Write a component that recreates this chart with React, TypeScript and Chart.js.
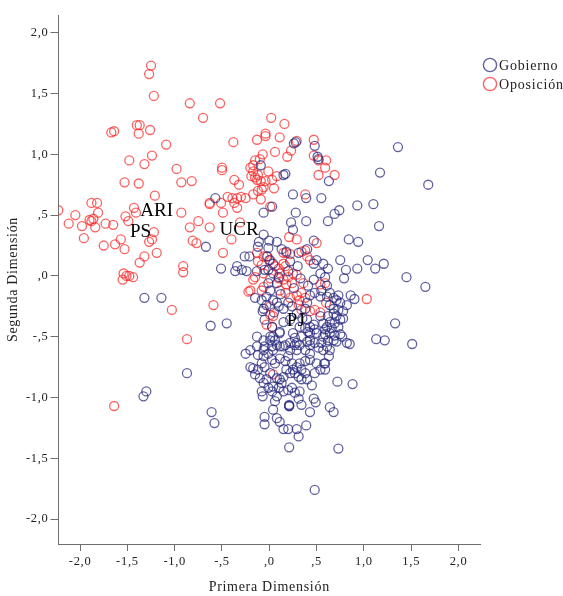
import { useEffect, useRef } from 'react';
import { Chart, registerables } from 'chart.js';

Chart.register(...registerables);

const xTicks = [-2, -1.5, -1, -0.5, 0, 0.5, 1, 1.5, 2];
const xTickLabels = ['-2,0', '-1,5', '-1,0', '-,5', ',0', ',5', '1,0', '1,5', '2,0'];
const yTicks = [-2, -1.5, -1, -0.5, 0, 0.5, 1, 1.5, 2];
const yTickLabels = ['-2,0', '-1,5', '-1,0', '-,5', ',0', ',5', '1,0', '1,5', '2,0'];

const seriesNames = ['Gobierno', 'Oposición'];

// [Primera Dimensión, Segunda Dimensión]
const gobierno: [number, number][] = [
  [-0.57, 0.64], [-0.67, 0.24], [-0.51, 0.06], [-1.32, -0.18], [-1.14, -0.18], [-0.62, -0.41], [-0.45, -0.39],
  [-0.25, -0.64], [-0.12, -0.65], [-0.87, -0.8], [-1.3, -0.95], [-1.33, -0.99], [-0.61, -1.12], [-0.58, -1.21],
  [-0.07, -0.29], [-0.05, -1.16], [-0.05, -1.22],
  [0.28, 1.1], [0.26, 1.09], [0.48, 1.07], [0.51, 0.98], [0.52, 0.96], [0.63, 0.78], [-0.09, 0.91], [0.15, 0.83],
  [0.17, 0.84], [0.25, 0.67], [0.39, 0.64], [0.55, 0.64], [-0.06, 0.52], [0.03, 0.57], [0.28, 0.52], [0.39, 0.45],
  [0.62, 0.45], [0.69, 0.51], [0.74, 0.54], [0.93, 0.58], [0.23, 0.44], [0.25, 0.38], [-0.06, 0.34], [-0.11, 0.28],
  [-0.12, 0.24], [-0.01, 0.23], [0.08, 0.28], [0.18, 0.2], [0.31, 0.19], [0.4, 0.22], [0.47, 0.29], [0.84, 0.3],
  [0.94, 0.28], [-0.21, 0.16], [-0.02, 0.16],
  [1.36, 1.06], [1.17, 0.85], [1.68, 0.75], [1.1, 0.59], [1.16, 0.41], [1.04, 0.13], [1.21, 0.1], [1.12, 0.06],
  [0.93, 0.06], [0.81, 0.05], [0.79, -0.02], [0.62, 0.06], [1.45, -0.01], [1.65, -0.09], [0.59, -0.01], [0.61, -0.08],
  [0.86, -0.16], [0.9, -0.19], [0.82, -0.24], [0.73, -0.16], [0.68, -0.18], [0.75, -0.22], [1.33, -0.39], [1.13, -0.52],
  [1.22, -0.53], [1.51, -0.56], [0.82, -0.55], [0.85, -0.56],
  [0.62, -0.33], [0.68, -0.31], [0.71, -0.33], [0.75, -0.36], [0.78, -0.35], [0.64, -0.38], [0.69, -0.39], [0.73, -0.42],
  [0.66, -0.43], [0.61, -0.42], [0.57, -0.39], [0.59, -0.44], [0.64, -0.47], [0.69, -0.49], [0.75, -0.48], [0.77, -0.5],
  [0.68, -0.53], [0.62, -0.53], [0.71, -0.54], [0.57, -0.5], [0.61, -0.58], [0.64, -0.61], [0.57, -0.61], [0.63, -0.66],
  [0.58, -0.72], [0.54, -0.33],
  [0.01, -0.5], [0.04, -0.5], [0.27, -0.51], [0.41, -0.46], [0.5, -0.47], [0.59, -0.48], [0.55, -0.55], [0.48, -0.55],
  [0.43, -0.57], [0.38, -0.61], [0.32, -0.57], [0.27, -0.57], [0.22, -0.55], [0.17, -0.57], [0.11, -0.58], [0.08, -0.57],
  [0.03, -0.58], [-0.05, -0.58], [0.4, -0.54],
  [-0.06, -0.66], [-0.01, -0.64], [0.03, -0.69], [0.06, -0.72], [0.11, -0.68], [0.17, -0.7], [0.2, -0.66], [0.24, -0.72],
  [0.25, -0.77], [0.29, -0.75], [0.32, -0.72], [0.34, -0.77], [0.38, -0.8], [0.31, -0.83], [0.27, -0.8], [0.22, -0.8],
  [0.18, -0.77], [0.15, -0.83], [0.11, -0.85], [0.08, -0.84], [0.01, -0.8], [-0.05, -0.75], [-0.08, -0.72], [-0.12, -0.77],
  [-0.15, -0.81], [-0.1, -0.84], [-0.17, -0.76], [-0.2, -0.75], [-0.03, -0.85], [-0.06, -0.88], [-0.01, -0.92], [0.04, -0.91],
  [0.1, -0.92], [0.13, -0.88], [0.34, -0.85], [0.4, -0.85], [0.45, -0.9], [0.5, -0.72], [0.54, -0.77], [0.59, -0.72],
  [0.59, -0.77], [0.48, -0.8], [0.43, -0.69], [0.38, -0.7], [0.72, -0.87], [0.88, -0.89],
  [-0.08, -0.95], [-0.07, -0.99], [0.03, -0.95], [0.08, -0.99], [0.06, -1.03], [0.15, -0.95], [0.2, -0.94], [0.24, -0.92],
  [0.27, -0.96], [0.32, -0.95], [0.31, -1.01], [0.34, -1.06], [0.21, -1.07], [0.21, -1.07], [0.21, -1.06], [0.47, -1.01],
  [0.49, -1.04], [0.43, -1.12], [0.64, -1.08], [0.68, -1.12], [0.04, -1.1], [0.08, -1.17], [0.11, -1.2], [0.15, -1.26],
  [0.2, -1.26], [0.29, -1.26], [0.31, -1.32], [0.39, -1.23], [0.21, -1.41], [0.73, -1.42], [0.48, -1.76],
  [-0.26, 0.16], [-0.34, 0.08], [-0.29, 0.05], [-0.24, 0.04], [-0.36, 0.04], [-0.13, 0.04], [-0.01, 0.05], [0.04, 0.1],
  [0.47, 0.1], [0.5, 0.13], [0.54, 0.02], [0.55, -0.12], [0.47, -0.03], [-0.01, -0.06], [0.01, -0.12], [-0.03, -0.17],
  [-0.08, -0.2], [-0.06, -0.27], [0.04, -0.2], [0.08, -0.22], [0.1, -0.25], [0.15, -0.27], [0.2, -0.22], [0.24, -0.25],
  [0.43, -0.16], [0.48, -0.14], [0.54, -0.17], [0.4, -0.22], [0.64, -0.14], [0.71, -0.2], [0.64, -0.24], [0.68, -0.27],
  [0.73, -0.28], [0.78, -0.29], [0.47, -0.4], [0.48, -0.44], [0.43, -0.42], [0.38, -0.43], [0.34, -0.5], [0.43, -0.53],
  [0.29, -0.55], [0.25, -0.47], [0.11, -0.47], [0.06, -0.53], [0.01, -0.53], [-0.06, -0.53], [-0.13, -0.5], [-0.2, -0.61],
  [-0.13, -0.58], [-0.06, -0.61], [0.04, -0.61], [0.15, -0.58], [0.22, -0.61], [0.29, -0.61], [0.43, -0.64], [0.52, -0.59],
  [0.0, 0.29], [0.0, 0.13], [-0.05, 0.05], [0.04, 0.02], [0.1, -0.01], [0.08, -0.06], [-0.15, -0.18], [-0.03, -0.24],
  [-0.05, -0.36], [0.03, -0.42], [0.11, -0.46], [0.57, 0.1], [0.75, 0.13], [0.61, -0.17], [0.41, -0.08], [0.43, -0.47],
  [0.32, -0.42], [0.4, -0.36], [0.22, -0.36], [0.29, -0.31], [0.38, -0.27],
  [0.13, 0.22], [0.22, 0.12], [0.3, 0.08], [0.33, -0.02], [0.2, 0.04], [0.26, -0.1], [0.12, -0.15], [0.35, -0.35],
  [0.15, -0.38], [0.05, -0.3],
];

const oposicion: [number, number][] = [
  [-1.25, 1.73], [-1.27, 1.66], [-1.22, 1.48], [-0.84, 1.42], [-0.7, 1.3], [-1.67, 1.18], [-1.64, 1.19], [-1.4, 1.24],
  [-1.37, 1.24], [-1.38, 1.17], [-1.26, 1.2], [-1.09, 1.08], [-1.48, 0.95], [-1.24, 0.99], [-1.32, 0.92], [-0.98, 0.88],
  [-1.53, 0.77], [-1.38, 0.76], [-0.93, 0.77], [-0.82, 0.78], [-1.21, 0.66], [-1.88, 0.6], [-1.82, 0.6], [-1.81, 0.52],
  [-2.23, 0.54], [-2.05, 0.5], [-1.43, 0.56], [-1.41, 0.52], [-0.93, 0.52], [-0.63, 0.59], [-2.12, 0.43], [-1.98, 0.41],
  [-1.9, 0.46], [-1.88, 0.45], [-1.86, 0.47], [-1.84, 0.4], [-1.96, 0.31], [-1.73, 0.43], [-1.65, 0.42], [-1.75, 0.25],
  [-1.63, 0.26], [-1.57, 0.3], [-1.53, 0.22], [-1.52, 0.49], [-1.49, 0.45], [-1.22, 0.36], [-1.24, 0.3], [-1.27, 0.28],
  [-1.32, 0.16], [-1.37, 0.11], [-1.19, 0.19], [-1.54, 0.02], [-1.51, 0.0], [-1.55, -0.03], [-1.48, 0.0], [-1.44, -0.01],
  [-0.84, 0.4], [-0.75, 0.45], [-0.63, 0.4], [-0.81, 0.29], [-0.77, 0.27], [-0.91, 0.08], [-0.91, 0.03], [-1.03, -0.28],
  [-0.59, -0.24], [-0.87, -0.52], [-1.64, -1.07], [-0.63, 0.6], [-0.51, 0.6], [-0.49, 0.52], [-0.49, 0.19], [-0.44, 0.65],
  [-0.52, 1.42], [0.02, 1.3], [0.16, 1.25], [-0.04, 1.17], [-0.04, 1.15], [-0.13, 1.12], [0.11, 1.14], [0.29, 1.11],
  [-0.38, 1.1], [0.47, 1.12], [0.23, 1.03], [0.19, 0.98], [0.06, 1.02], [-0.07, 1.0], [-0.1, 0.96], [-0.15, 0.95],
  [-0.17, 0.91], [-0.5, 0.89], [-0.5, 0.87], [-0.2, 0.89], [-0.17, 0.86], [-0.19, 0.82], [-0.15, 0.81], [-0.12, 0.83],
  [-0.13, 0.79], [-0.09, 0.78], [-0.01, 0.86], [0.08, 0.82], [-0.04, 0.78], [0.03, 0.79], [-0.37, 0.79], [-0.32, 0.75],
  [-0.08, 0.71], [-0.12, 0.7], [-0.06, 0.73], [0.05, 0.72], [-0.17, 0.67], [-0.09, 0.63], [0.47, 0.99], [0.52, 0.95],
  [0.6, 0.95], [0.59, 0.89], [0.69, 0.83], [0.52, 0.83], [-0.39, 0.64], [-0.34, 0.64], [-0.3, 0.65], [-0.25, 0.64],
  [-0.37, 0.6], [-0.34, 0.56], [0.01, 0.57], [0.38, 0.67], [-0.31, 0.44], [-0.4, 0.3], [0.21, 0.32], [0.29, 0.3],
  [0.5, 0.27], [0.18, 0.19], [0.22, 0.18], [0.34, 0.2], [0.38, 0.21], [0.4, 0.16],
  [0.59, -0.06], [1.03, -0.19], [0.6, -0.22], [0.54, -0.3],
  [-0.06, 0.16], [-0.03, 0.16], [-0.12, 0.12], [-0.08, 0.09], [-0.15, -0.01], [-0.17, -0.03], [-0.22, -0.13], [-0.2, -0.12],
  [-0.08, -0.12], [-0.06, -0.09], [0.01, -0.02], [0.06, 0.08], [0.1, 0.06], [0.15, 0.1], [0.17, 0.08], [0.11, 0.02],
  [0.1, -0.02], [0.15, -0.03], [0.2, -0.01], [0.25, 0.02], [0.29, 0.01], [0.24, -0.06], [0.18, -0.07], [0.11, -0.12],
  [0.17, -0.14], [0.22, -0.18], [0.29, -0.16], [0.32, -0.2], [0.31, -0.24], [0.34, -0.14], [0.38, -0.18], [0.36, -0.06],
  [0.43, 0.13], [0.34, -0.28], [0.48, -0.28], [0.43, -0.29], [0.01, -0.25], [-0.03, -0.4], [0.03, -0.42], [0.54, -0.07],
  [-0.06, 0.02], [0.01, 0.13], [-0.13, 0.19], [0.01, -0.32], [0.04, -0.33], [0.15, 0.19], [0.04, -0.81],
];

const partyNames = ['ARI', 'PS', 'UCR', 'PJ'];
const partyX = [-1.19, -1.36, -0.32, 0.28];
const partyY = [0.53, 0.36, 0.38, -0.37];

const SERIF = '"Liberation Serif", "Times New Roman", serif';
const BLUE = 'rgba(38, 38, 125, 0.72)';
const RED = 'rgba(250, 38, 38, 0.72)';
const AXIS = '#6e6e6e';

const overlayPlugin = {
  id: 'overlay',
  beforeDraw(chart: any) {
    chart.ctx.letterSpacing = '0.7px';
  },
  afterDraw(chart: any) {
    const { ctx, scales } = chart;
    ctx.save();
    ctx.letterSpacing = '0px';
    ctx.fillStyle = '#000';
    ctx.font = `19px ${SERIF}`;
    ctx.textAlign = 'center';
    ctx.textBaseline = 'middle';
    partyNames.forEach((name, i) => {
      ctx.fillText(name, scales.x.getPixelForValue(partyX[i]), scales.y.getPixelForValue(partyY[i]));
    });

    // legend
    const colors = [BLUE, RED];
    ctx.letterSpacing = '0.8px';
    ctx.font = `14px ${SERIF}`;
    ctx.textAlign = 'left';
    seriesNames.forEach((name, i) => {
      const cy = 65 + i * 19;
      ctx.beginPath();
      ctx.arc(490, cy, 6.6, 0, Math.PI * 2);
      ctx.strokeStyle = colors[i];
      ctx.lineWidth = 1.4;
      ctx.stroke();
      ctx.fillStyle = '#222';
      ctx.fillText(name, 499, cy + 1);
    });
    ctx.restore();
    ctx.letterSpacing = '0px';
  },
};

const toPoints = (pts: [number, number][]) => pts.map(([x, y]) => ({ x, y }));

export default function App() {
  const canvasRef = useRef<HTMLCanvasElement | null>(null);

  useEffect(() => {
    const canvas = canvasRef.current;
    if (!canvas) return;

    const chart = new Chart(canvas, {
      type: 'scatter',
      data: {
        datasets: [
          {
            label: seriesNames[0],
            data: toPoints(gobierno),
            borderColor: BLUE,
            backgroundColor: 'rgba(0,0,0,0)',
            borderWidth: 1.3,
            pointRadius: 4.5,
          },
          {
            label: seriesNames[1],
            data: toPoints(oposicion),
            borderColor: RED,
            backgroundColor: 'rgba(0,0,0,0)',
            borderWidth: 1.3,
            pointRadius: 4.5,
          },
        ],
      },
      options: {
        animation: false,
        responsive: true,
        maintainAspectRatio: false,
        events: [],
        layout: { padding: { left: 0, right: 83, top: 15, bottom: 0 } },
        plugins: {
          legend: { display: false },
          tooltip: { enabled: false },
        },
        scales: {
          x: {
            type: 'linear',
            min: -2.228,
            max: 2.227,
            afterBuildTicks: (axis: any) => {
              axis.ticks = xTicks.map((value) => ({ value }));
            },
            afterFit: (axis: any) => {
              axis.height = 52;
            },
            grid: { drawOnChartArea: false, drawTicks: true, tickLength: 7, color: AXIS },
            border: { display: true, color: AXIS },
            ticks: {
              color: '#222',
              padding: 3,
              maxRotation: 0,
              autoSkip: false,
              font: { family: SERIF, size: 12.5 },
              callback: (_v: any, i: number) => xTickLabels[i],
            },
            title: {
              display: true,
              text: 'Primera Dimensión',
              color: '#222',
              font: { family: SERIF, size: 14 },
              padding: { top: 2, bottom: 0 },
            },
          },
          y: {
            type: 'linear',
            min: -2.205,
            max: 2.146,
            afterBuildTicks: (axis: any) => {
              axis.ticks = yTicks.map((value) => ({ value }));
            },
            afterFit: (axis: any) => {
              axis.width = 58.5;
            },
            grid: { drawOnChartArea: false, drawTicks: true, tickLength: 8, color: AXIS },
            border: { display: true, color: AXIS },
            ticks: {
              color: '#222',
              padding: 2,
              autoSkip: false,
              font: { family: SERIF, size: 12.5 },
              callback: (_v: any, i: number) => yTickLabels[i],
            },
            title: {
              display: true,
              text: 'Segunda Dimensión',
              color: '#222',
              font: { family: SERIF, size: 14 },
              padding: { top: 5, bottom: 0 },
            },
          },
        },
      },
      plugins: [overlayPlugin],
    } as any);

    return () => {
      chart.destroy();
    };
  }, []);

  return (
    <div style={{ position: 'absolute', left: 0, top: 0, width: 563, height: 596, background: '#fff' }}>
      <canvas ref={canvasRef} />
    </div>
  );
}
